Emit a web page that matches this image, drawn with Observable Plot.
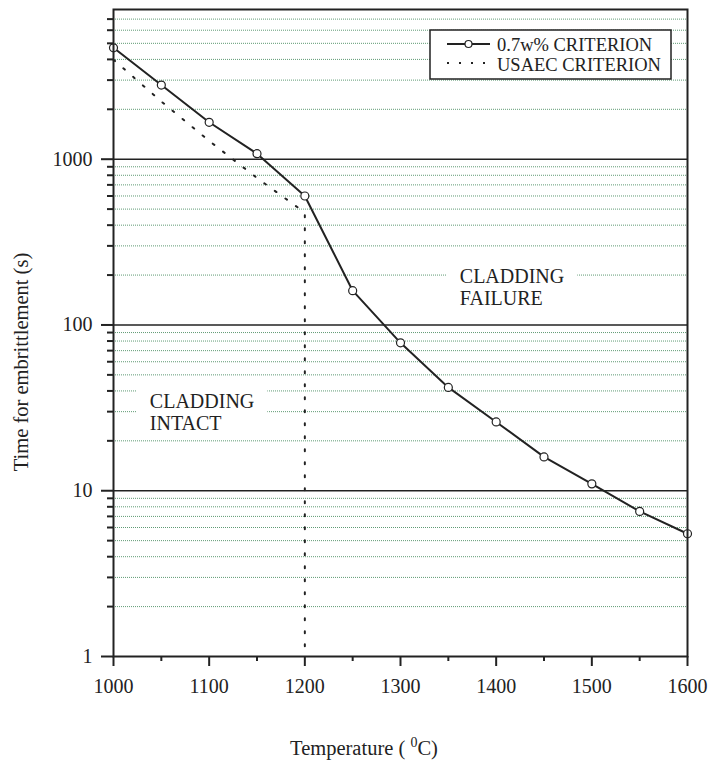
<!DOCTYPE html>
<html><head><meta charset="utf-8">
<script src="https://cdn.jsdelivr.net/npm/d3@7"></script>
<script src="https://cdn.jsdelivr.net/npm/@observablehq/plot@0.6"></script>
<style>
body{margin:0;background:#fff;}
#wrap{position:relative;width:715px;height:767px;}
svg text{font-family:"Liberation Serif","DejaVu Serif","Times New Roman",serif;}
</style></head><body><div id="wrap"></div>
<script>
// ---- data ----
const temperatures = [1000, 1050, 1100, 1150, 1200, 1250, 1300, 1350, 1400, 1450, 1500, 1550, 1600];
const criterion07 = [4700, 2800, 1670, 1080, 600, 161, 78, 42, 26, 16, 11, 7.5, 5.5];
const usaecTemps = [1000, 1050, 1100, 1150, 1195, 1200, 1200];
const usaecTimes = [3980, 2230, 1290, 770, 500, 460, 1];
const xTicks = [1000, 1100, 1200, 1300, 1400, 1500, 1600];
const xMinorTicks = [1050, 1150, 1250, 1350, 1450, 1550];
const yTicks = [1, 10, 100, 1000];
const yTickLabels = ["1", "10", "100", "1000"];
const yMinorTicks = [2, 3, 4, 5, 6, 7, 8, 9, 20, 30, 40, 50, 60, 70, 80, 90,
  200, 300, 400, 500, 600, 700, 800, 900, 2000, 3000, 4000, 5000, 6000, 7000];
const annotationLabels = ["CLADDING\nFAILURE", "CLADDING\nINTACT"];
const annotationX = [1362, 1038];
const annotationY = [170, 30];
const legendLabels = ["0.7w% CRITERION", "USAEC CRITERION"];
const xTitle = "Temperature (";
const yTitle = "Time for embrittlement (s)";

const crit = temperatures.map((t, i) => ({t, v: criterion07[i]}));
const usaec = usaecTemps.map((t, i) => ({t, v: usaecTimes[i]}));
const annots = annotationLabels.map((label, i) => ({label, x: annotationX[i], y: annotationY[i]}));
const ink = "#222";
const font = "Liberation Serif, DejaVu Serif, Times New Roman, serif";

const chart = Plot.plot({
  width: 715, height: 767,
  marginLeft: 113, marginRight: 28, marginTop: 9, marginBottom: 111,
  style: {fontFamily: font, fontSize: "20px", background: "#fff", color: ink},
  x: {domain: [1000, 1600], axis: null},
  y: {type: "log", domain: [1, 8000], axis: null},
  marks: [
    Plot.ruleY(yMinorTicks, {stroke: "#5f9a74", strokeWidth: 1, strokeDasharray: "1,1"}),
    Plot.ruleY(yTicks.slice(1), {stroke: ink, strokeWidth: 1.6}),
    Plot.text(annots, {x: "x", y: "y", text: "label", textAnchor: "start", lineAnchor: "middle",
      lineHeight: 1.1, fontSize: 20, fill: ink}),
    Plot.line(usaec, {x: "t", y: "v", stroke: ink, strokeWidth: 2, strokeDasharray: "2,11"}),
    Plot.line(crit, {x: "t", y: "v", stroke: ink, strokeWidth: 2}),
    Plot.dot(crit, {x: "t", y: "v", r: 4, fill: "white", stroke: ink, strokeWidth: 1.2}),
    Plot.axisX({ticks: xTicks, tickSize: 10, tickPadding: 12, strokeWidth: 2, fontSize: 20,
      tickFormat: d => String(d), label: null}),
    Plot.axisX({ticks: xMinorTicks, tickSize: 5, strokeWidth: 2, tickFormat: () => "", label: null}),
    Plot.axisY({ticks: yTicks, tickSize: 12, tickPadding: 9, strokeWidth: 2, fontSize: 20,
      tickFormat: d => yTickLabels[yTicks.indexOf(d)], label: null}),
    Plot.axisY({ticks: yMinorTicks, tickSize: 6, strokeWidth: 2, tickFormat: () => "", label: null}),
    Plot.frame({stroke: ink, strokeWidth: 2})
  ]
});
document.getElementById("wrap").appendChild(chart);

const svg = d3.select(chart);
// white boxes behind annotations
svg.selectAll("text").filter(function() { return this.textContent.startsWith("CLADDING"); })
  .each(function() {
    const b = this.getBBox();
    const r = document.createElementNS("http://www.w3.org/2000/svg", "rect");
    r.setAttribute("x", b.x - 13); r.setAttribute("y", b.y - 2);
    r.setAttribute("width", b.width + 26); r.setAttribute("height", b.height + 4);
    r.setAttribute("fill", "white");
    const tr = this.getAttribute("transform");
    if (tr) r.setAttribute("transform", tr);
    this.parentNode.insertBefore(r, this);
  });

// titles
const xt = svg.append("text").attr("x", 364).attr("y", 755).attr("text-anchor", "middle")
  .attr("font-family", font).attr("font-size", 20.5).attr("fill", ink);
xt.append("tspan").text(xTitle + " ");
xt.append("tspan").attr("dy", -8).attr("font-size", 14).text("0");
xt.append("tspan").attr("dy", 8).text("C)");

svg.append("text").attr("transform", "translate(28,362) rotate(-90)").attr("text-anchor", "middle")
  .attr("font-family", font).attr("font-size", 20.5).attr("fill", ink).text(yTitle);

// legend
const lg = svg.append("g");
lg.append("rect").attr("x", 430).attr("y", 30).attr("width", 241).attr("height", 49)
  .attr("fill", "white").attr("stroke", ink).attr("stroke-width", 1.5);
lg.append("line").attr("x1", 447).attr("x2", 490).attr("y1", 44).attr("y2", 44)
  .attr("stroke", ink).attr("stroke-width", 2);
lg.append("circle").attr("cx", 468.5).attr("cy", 44).attr("r", 3.5)
  .attr("fill", "white").attr("stroke", ink).attr("stroke-width", 1.2);
lg.append("line").attr("x1", 447).attr("x2", 490).attr("y1", 63).attr("y2", 63)
  .attr("stroke", ink).attr("stroke-width", 2).attr("stroke-dasharray", "2,10");
legendLabels.forEach((l, i) => {
  lg.append("text").attr("x", 497).attr("y", 51 + i * 20).attr("text-anchor", "start")
    .attr("font-family", font).attr("font-size", 18.5).attr("fill", ink).text(l);
});
</script></body></html>
